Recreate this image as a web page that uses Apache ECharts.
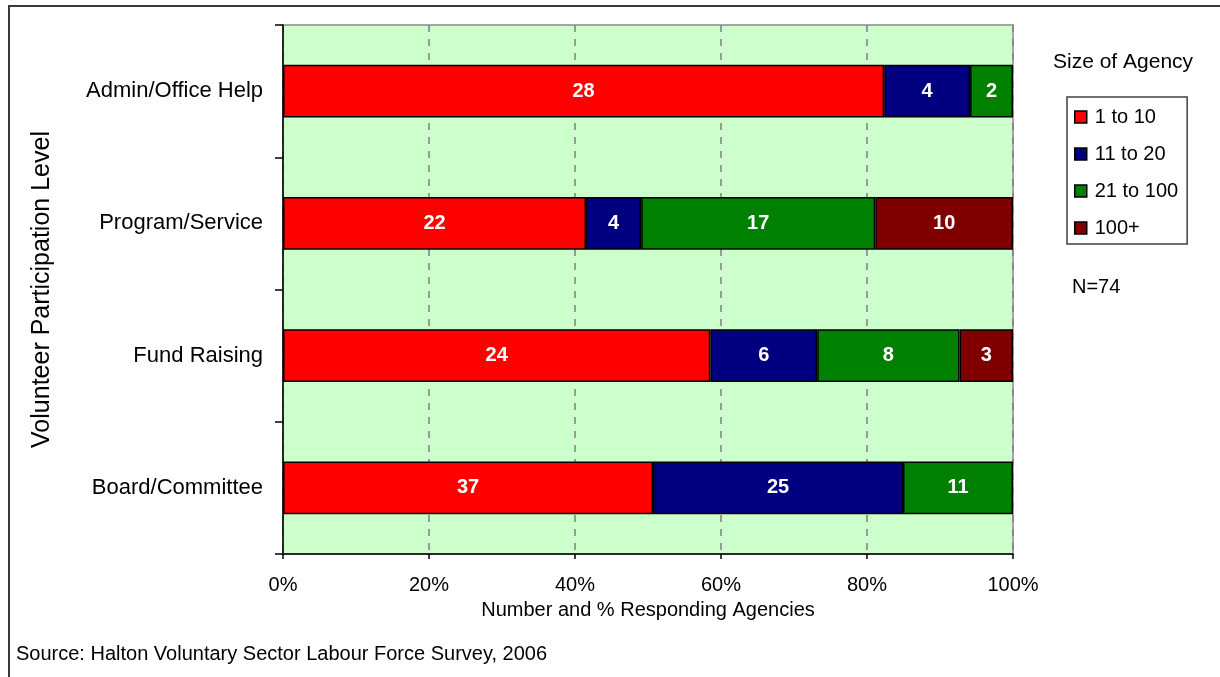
<!DOCTYPE html>
<html>
<head>
<meta charset="utf-8">
<title>Volunteer Participation Level by Size of Agency</title>
<script src="https://cdn.jsdelivr.net/npm/echarts@6/dist/echarts.min.js"></script>
<style>
  html, body { margin: 0; padding: 0; background: #ffffff; }
  #chart { width: 1220px; height: 677px; }
</style>
</head>
<body>
<div id="chart"></div>
<script>
// Participation levels, listed top to bottom
const categories = ['Admin/Office Help', 'Program/Service', 'Fund Raising', 'Board/Committee'];

// Number of responding agencies in each size group
const size1to10 = [28, 22, 24, 37];
const size11to20 = [4, 4, 6, 25];
const size21to100 = [2, 17, 8, 11];
const size100plus = [0, 10, 3, 0];

const groupNames = ['1 to 10', '11 to 20', '21 to 100', '100+'];
const groupColors = ['#FF0000', '#000080', '#008000', '#800000'];
const xTickValues = [0, 20, 40, 60, 80, 100];

const FONT = '"Liberation Sans", Arial, Helvetica, sans-serif';

const groups = [size1to10, size11to20, size21to100, size100plus];
const totals = categories.map((_, i) => groups.reduce((s, g) => s + g[i], 0));

const series = groups.map((counts, gi) => ({
  name: groupNames[gi],
  type: 'bar',
  stack: 'agencies',
  barWidth: '40%',
  itemStyle: { color: groupColors[gi], borderColor: '#000000', borderWidth: 1.5 },
  label: {
    show: true,
    position: 'inside',
    color: '#ffffff',
    fontFamily: FONT,
    fontWeight: 'bold',
    fontSize: 20,
    formatter: p => String(counts[p.dataIndex])
  },
  // each segment's width is its share of the row's responding agencies
  data: counts.map((c, i) => (c > 0 ? c / totals[i] * 100 : null))
}));

const chart = echarts.init(document.getElementById('chart'), null, { renderer: 'canvas' });

chart.setOption({
  animation: false,
  backgroundColor: '#ffffff',
  grid: {
    left: 283, right: 207, top: 25, bottom: 123,
    show: true,
    backgroundColor: '#CCFFCC',
    borderColor: '#a6a6a6',
    borderWidth: 2
  },
  xAxis: {
    type: 'value',
    min: 0, max: 100, interval: 20,
    axisLine: { show: true, lineStyle: { color: '#000000', width: 1.5 } },
    axisTick: { show: true, length: 5, lineStyle: { color: '#000000', width: 1.5 } },
    axisLabel: {
      margin: 21,
      color: '#000000',
      fontFamily: FONT,
      fontSize: 20,
      customValues: xTickValues,
      formatter: v => v + '%'
    },
    splitLine: { show: true, lineStyle: { color: '#808080', width: 1.5, type: [7, 7] } },
    name: 'Number and % Responding Agencies',
    nameLocation: 'middle',
    nameGap: 46,
    nameTextStyle: { color: '#000000', fontFamily: FONT, fontSize: 20 }
  },
  yAxis: {
    type: 'category',
    data: categories,
    inverse: true,
    axisLine: { show: true, lineStyle: { color: '#000000', width: 1.5 } },
    axisTick: { show: true, length: 8, lineStyle: { color: '#000000', width: 1.5 } },
    axisLabel: { margin: 20, color: '#000000', fontFamily: FONT, fontSize: 22 },
    splitLine: { show: false },
    name: 'Volunteer Participation Level',
    nameLocation: 'middle',
    nameRotate: 90,
    nameGap: 228,
    nameTextStyle: { color: '#000000', fontFamily: FONT, fontSize: 25 }
  },
  legend: {
    orient: 'vertical',
    left: 1067,
    top: 97,
    padding: [10, 9, 6, 7],
    borderColor: '#404040',
    borderWidth: 1.5,
    itemWidth: 12,
    itemHeight: 12,
    itemGap: 17,
    icon: 'rect',
    data: groupNames,
    itemStyle: { borderColor: '#000000', borderWidth: 1.5 },
    textStyle: { color: '#000000', fontFamily: FONT, fontSize: 20, padding: [0, 0, 0, 3] }
  },
  graphic: [
    {
      type: 'rect',
      silent: true,
      shape: { x: 9, y: 6, width: 1400, height: 900 },
      style: { fill: 'none', stroke: '#3a3a3a', lineWidth: 2 },
      z: 100
    },
    {
      type: 'text',
      left: 1053, top: 52,
      style: { text: 'Size of Agency', fill: '#000000', font: '21px ' + FONT }
    },
    {
      type: 'text',
      left: 1072, top: 277,
      style: { text: 'N=74', fill: '#000000', font: '20px ' + FONT }
    },
    {
      type: 'text',
      left: 16, top: 644,
      style: { text: 'Source: Halton Voluntary Sector Labour Force Survey, 2006', fill: '#000000', font: '20px ' + FONT }
    }
  ],
  series: series
});
</script>
</body>
</html>
